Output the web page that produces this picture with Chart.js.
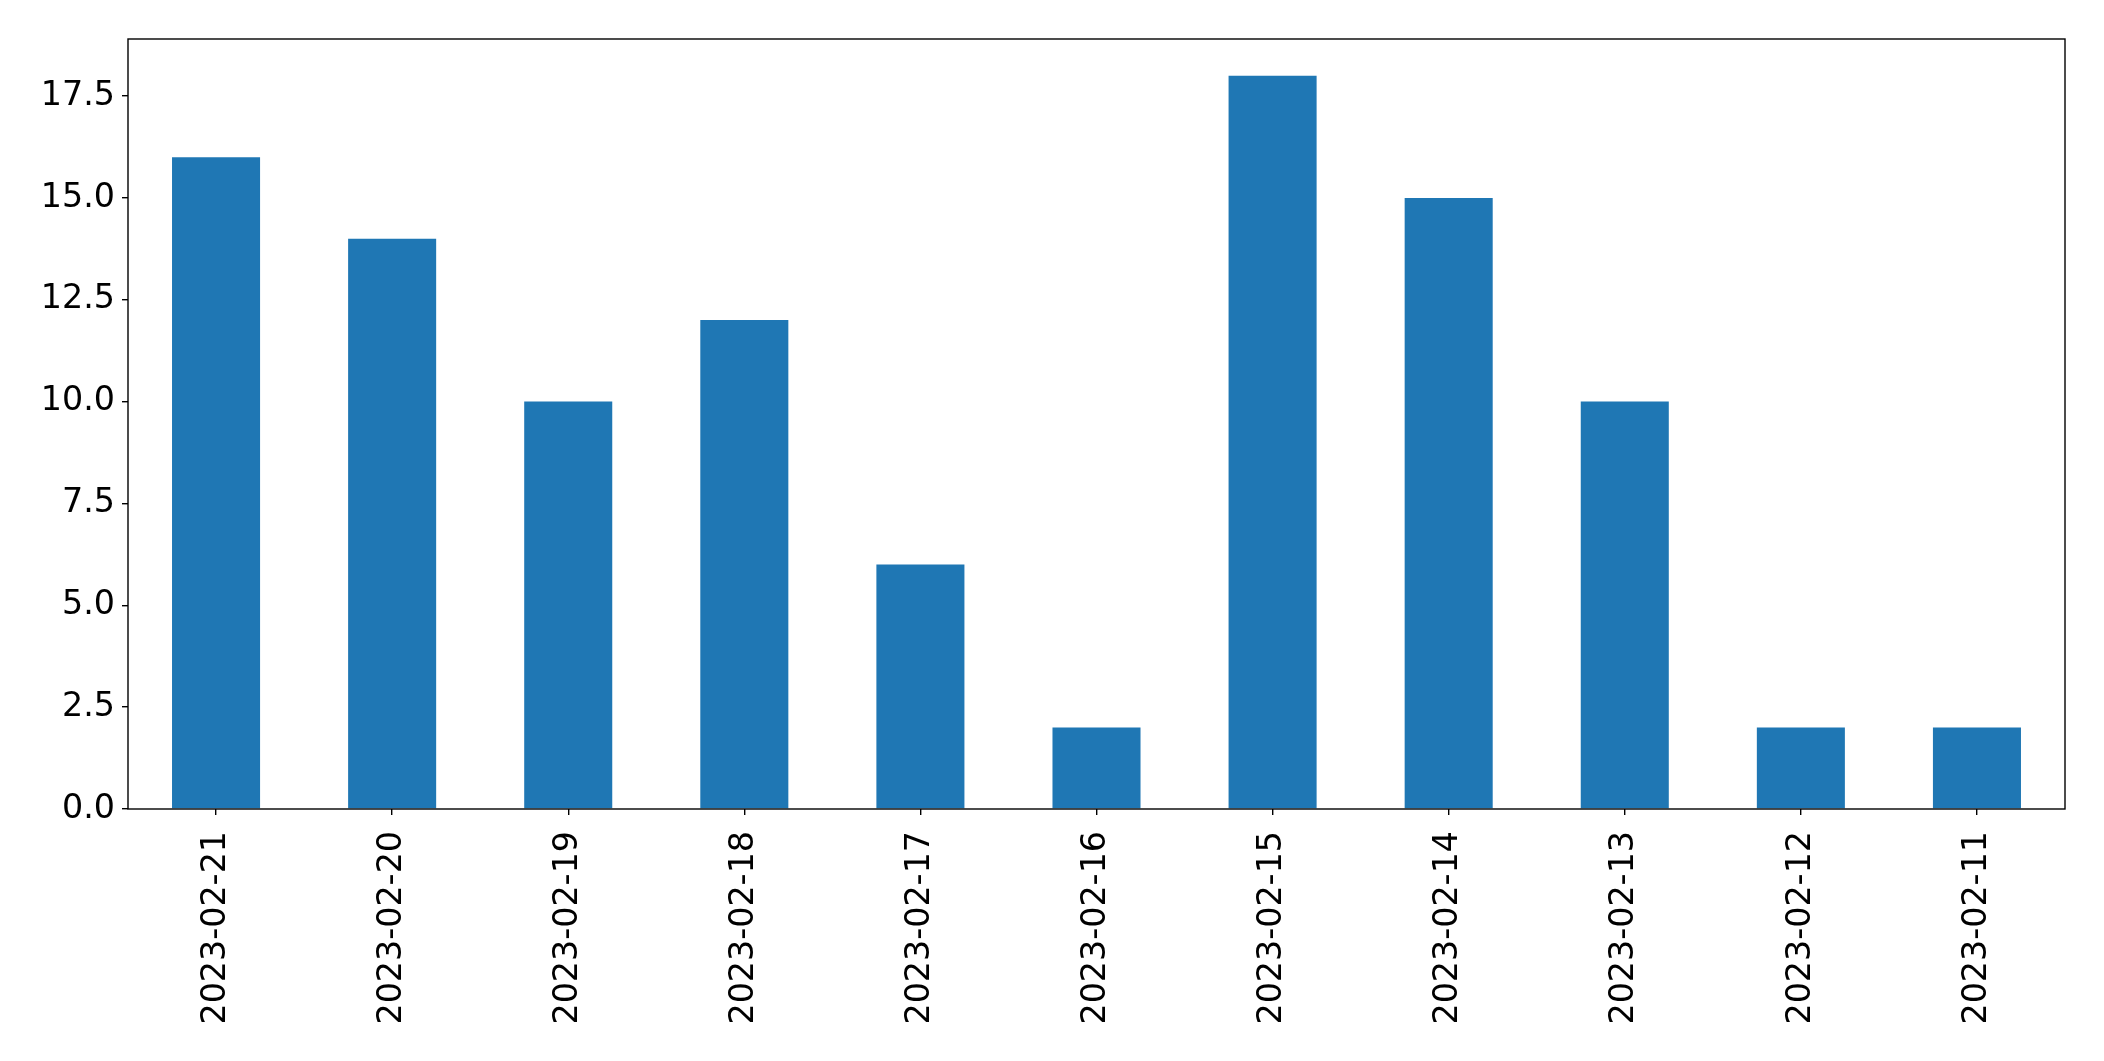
<!DOCTYPE html>
<html>
<head>
<meta charset="utf-8">
<script src="https://cdn.jsdelivr.net/npm/chart.js@4/dist/chart.umd.min.js"></script>
<style>
html,body{margin:0;padding:0;background:#fff;}
#wrap{width:2104px;height:1061px;position:relative;}
</style>
</head>
<body>
<div id="wrap"><canvas id="c" width="2104" height="1061"></canvas></div>
<script>
const categories = ["2023-02-21","2023-02-20","2023-02-19","2023-02-18","2023-02-17","2023-02-16","2023-02-15","2023-02-14","2023-02-13","2023-02-12","2023-02-11"];
const counts = [16,14,10,12,6,2,18,15,10,2,2];
const yTickValues = [0,2.5,5,7.5,10,12.5,15,17.5];
const yMax = 18.9;

const frame = {
  id:'frame',
  afterDraw(chart){
    const {ctx, chartArea:a} = chart;
    ctx.save();
    ctx.strokeStyle='#000';
    ctx.lineWidth=1.4;
    ctx.strokeRect(a.left, a.top, a.right-a.left, a.bottom-a.top);
    ctx.restore();
  }
};

const font = {family:'"DejaVu Sans", sans-serif', size:33.3};

new Chart(document.getElementById('c'), {
  type:'bar',
  data:{labels:categories, datasets:[{data:counts, backgroundColor:'#1f77b4', borderWidth:0, categoryPercentage:1, barPercentage:0.5}]},
  options:{
    responsive:false, animation:false, devicePixelRatio:1,
    layout:{padding:{left:0,top:39,right:39,bottom:0}},
    plugins:{legend:{display:false}, tooltip:{enabled:false}},
    scales:{
      x:{
        offset:true,
        grid:{display:true, offset:false, drawOnChartArea:false, drawTicks:true, tickLength:6, color:'#000', lineWidth:1.4},
        border:{display:false},
        ticks:{font, color:'#000', minRotation:90, maxRotation:90, padding:16, autoSkip:false},
        afterFit(s){ s.height = 252; }
      },
      y:{
        min:0, max:yMax,
        grid:{display:true, drawOnChartArea:false, drawTicks:true, tickLength:6, color:'#000', lineWidth:1.4},
        border:{display:false},
        ticks:{font, color:'#000', padding:7, callback:v=>Number(v).toFixed(1)},
        afterBuildTicks(s){ s.ticks = yTickValues.map(v=>({value:v})); },
        afterFit(s){ s.width = 128; }
      }
    }
  },
  plugins:[frame]
});
</script>
</body>
</html>
